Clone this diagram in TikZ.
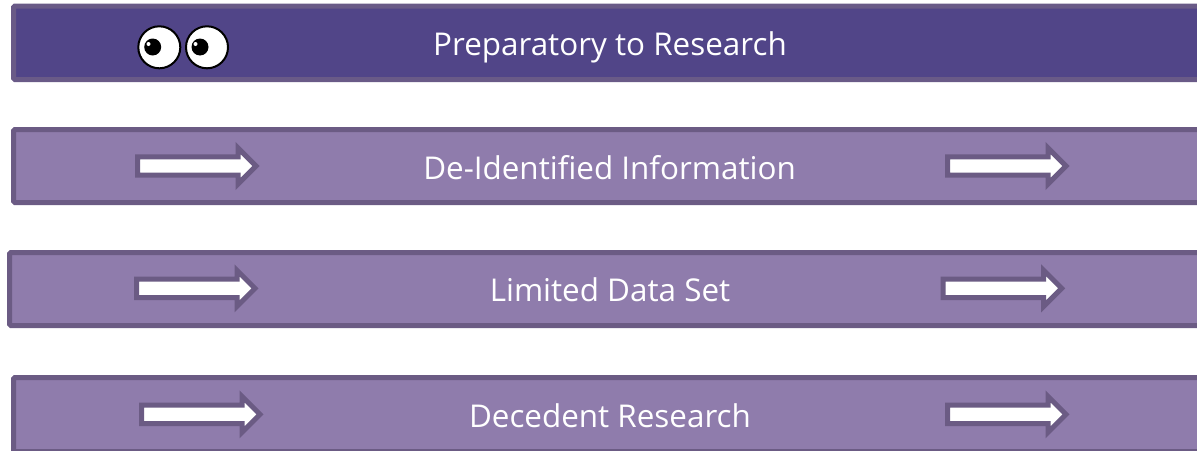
\documentclass[tikz,border=0pt]{standalone}
\usepackage{fontspec}
\setmainfont{Open Sans}
\definecolor{darkfill}{RGB}{81,69,136}
\definecolor{darkline}{RGB}{105,90,135}
\definecolor{lightfill}{RGB}{143,124,172}
\definecolor{lightline}{RGB}{107,91,132}
\newcommand{\whitearrow}[2]{%
  \draw[arrowshape] (#1,#2-9.2) -- ++(100.5,0) -- ++(0,-8.8) -- ++(18,18) -- ++(-18,18) -- ++(0,-8.8) -- ++(-100.5,0) -- cycle;}
\tikzset{
  barbox/.style={draw=lightline,fill=lightfill,line width=5pt,rounded corners=1.5pt},
  topbar/.style={barbox,draw=darkline,fill=darkfill},
  bartext/.style={text=white,font=\fontsize{31.4pt}{36pt}\selectfont,inner sep=0pt,anchor=base},
  arrowshape/.style={draw=lightline,fill=white,line width=5pt,miter limit=10},
  eyeball/.style={draw=black,fill=white,line width=2pt},
  pupil/.style={fill=black},
  glint/.style={fill=white}
}
\begin{document}
\begin{tikzpicture}[x=1pt,y=-1pt]
\useasboundingbox (0,0) rectangle (1197,450);
\clip (0,0) rectangle (1197,450);
\draw[topbar] (13.5,6) rectangle (1210,79.5);
\draw[barbox] (13.5,129.5) rectangle (1210,202.5);
\draw[barbox] (9.5,252.5) rectangle (1210,325.5);
\draw[barbox] (13.5,377.5) rectangle (1210,451.5);
\node[bartext] (prep) at (610,55) {Preparatory to Research};
\node[bartext] (deid) at (609.5,179) {De-Identified Information};
\node[bartext] (lds) at (610,301) {Limited Data Set};
\node[bartext] (dec) at (610,427) {Decedent Research};
\whitearrow{137.5}{166}
\whitearrow{947.5}{166}
\whitearrow{136.5}{288.3}
\whitearrow{943.2}{288.3}
\whitearrow{141.5}{414.3}
\whitearrow{947.5}{414.3}
\draw[eyeball] (159.3,47.3) circle (21);
\draw[eyeball] (207,47.3) circle (21);
\fill[pupil] (152.7,47) circle (8.5);
\fill[pupil] (200,47) circle (8.5);
\fill[glint] (148.5,44) circle (2);
\fill[glint] (195.5,44) circle (2);
\end{tikzpicture}
\end{document}
